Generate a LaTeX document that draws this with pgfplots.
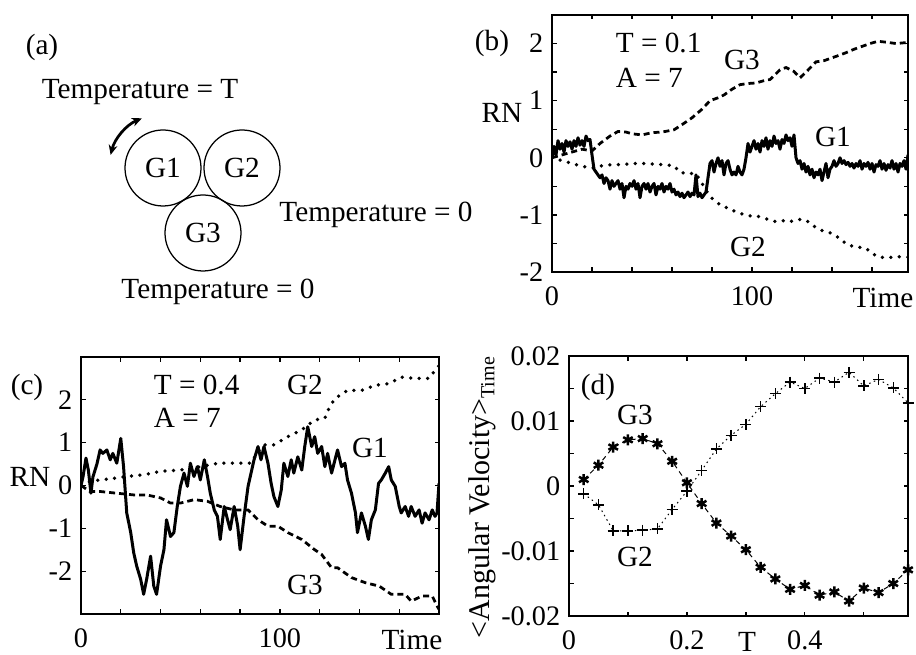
\documentclass[border=0pt]{standalone}
\usepackage{pgfplots}
\pgfplotsset{compat=1.18}
\usepackage{fontspec}
\setmainfont{Liberation Serif}
\usetikzlibrary{arrows.meta}

\pgfplotsset{
  panel/.style={scale only axis, anchor=south west, tick align=inside,
    major tick length=1.8pt, minor tick length=1.8pt,
    tick style={black, line width=0.5pt},
    axis line style={line width=0.6pt},
    tick label style={font=\fontsize{11.3}{12}\selectfont},
    xticklabel style={yshift=-2.5pt},
    scaled ticks=false},
  g1/.style={black, line width=1.2pt, line join=round},
  g2/.style={black, line width=1.5pt, line cap=round, dash pattern=on 0pt off 3.4pt},
  g3/.style={black, line width=1.1pt, dash pattern=on 2.4pt off 1.6pt},
}
\newcommand{\tx}{\fontsize{11.7}{13}\selectfont}

\begin{document}
\begin{tikzpicture}
\path[use as bounding box] (0,0) rectangle (366.4pt,262pt);

% ---------- (a) sketch ----------
\begin{scope}[x=0.4pt,y=-0.4pt,shift={(0pt,262pt)}]
\draw[line width=0.5pt] (163,168) circle[radius=38];
\draw[line width=0.5pt] (242,168) circle[radius=38];
\draw[line width=0.5pt] (203,233) circle[radius=38];
\node[font=\tx] at (163,168) {G1};
\node[font=\tx] at (242,168) {G2};
\node[font=\tx] at (203,233) {G3};
\node[font=\tx] at (42,47) {(a)};
\node[font=\tx] at (140,92) {Temperature = T};
\node[font=\tx] at (376,215) {Temperature = 0};
\node[font=\tx] at (218,292) {Temperature = 0};
% labels of (b)
\node[font=\tx] at (492,43) {(b)};
\node[font=\tx, anchor=west] at (607,43) {T = 0.1};
\node[font=\tx, anchor=west] at (607,78) {A = 7};
\node[font=\tx] at (742,60) {G3};
\node[font=\tx] at (833,137) {G1};
\node[font=\tx] at (748,247) {G2};
\node[font=\tx] at (502,113) {RN};
\node[font=\tx] at (883,298) {Time};
% labels of (c)
\node[font=\tx] at (27,387) {(c)};
\node[font=\tx, anchor=west] at (145,385) {T = 0.4};
\node[font=\tx, anchor=west] at (145,418) {A = 7};
\node[font=\tx] at (305,385) {G2};
\node[font=\tx] at (370,448) {G1};
\node[font=\tx] at (305,585) {G3};
\node[font=\tx] at (30,477) {RN};
\node[font=\tx] at (412,640) {Time};
% labels of (d)
\node[font=\tx] at (598,387) {(d)};
\node[font=\tx] at (635,415) {G3};
\node[font=\tx] at (635,557) {G2};
\node[font=\tx] at (747,642) {T};
\node[font=\fontsize{12}{13}\selectfont, rotate=90, anchor=base west] at (490,647) {<Angular Velocity>\textsubscript{Time}};
\end{scope}
\draw[line width=1.1pt, {Stealth[length=4pt,width=3.5pt]}-{Stealth[length=4pt,width=3.5pt]}]
  ([shift={(166:21.6pt)}]65.2pt,194.8pt) arc[start angle=166, end angle=113, radius=21.6pt];

% ---------- (b) ----------
\begin{axis}[panel, at={(220.8pt,153.2pt)}, width=142.4pt, height=102.8pt,
  xmin=0, xmax=178, ymin=-2, ymax=2.5,
  xtick={0,100}, xticklabels={0,100}, minor xtick={20,40,60,80,120,140,160},
  ytick={-2,-1,0,1,2}, yticklabels={-2,-1,0,1,2}, minor ytick={-1.5,-0.5,0.5,1.5}]
\addplot[g3] coordinates {(0,0)(5,0.05)(10,0.1)(15,0.15)(20,0.12)(24,0.25)(29,0.38)(33,0.46)(37,0.45)(40,0.42)(45,0.4)(50,0.44)(55,0.45)(61,0.49)(65,0.58)(70,0.7)(75,0.85)(79,1.0)(83,1.05)(86,1.1)(90,1.2)(94,1.28)(98,1.3)(102,1.31)(106,1.35)(109,1.37)(114,1.54)(117,1.58)(121,1.51)(124,1.4)(127,1.5)(132,1.68)(136,1.7)(140,1.75)(144,1.8)(147,1.84)(151,1.9)(155,1.95)(159,2.0)(163,2.04)(168,2.02)(172,2.0)(178,2.02)};
\addplot[g2] coordinates {(0,0)(5,-0.05)(9,-0.09)(15,-0.15)(20,-0.18)(25,-0.14)(30,-0.12)(35,-0.12)(40,-0.1)(47,-0.1)(55,-0.12)(61,-0.14)(64,-0.26)(68,-0.27)(72,-0.28)(75,-0.45)(79,-0.68)(83,-0.8)(86,-0.85)(89,-0.91)(93,-0.95)(96,-1.0)(100,-1.02)(104,-1.03)(108,-1.08)(112,-1.12)(116,-1.1)(119,-1.12)(123,-1.08)(127,-1.09)(131,-1.2)(134,-1.26)(137,-1.3)(140,-1.32)(144,-1.42)(148,-1.53)(152,-1.56)(157,-1.58)(160,-1.68)(164,-1.74)(168,-1.75)(172,-1.73)(178,-1.74)};
\addplot[g1] coordinates {(0,0.0)(1,0.2)(2,0.05)(3,0.3)(4,0.15)(5,0.25)(6,0.1)(7,0.3)(8,0.2)(9,0.28)(10,0.15)(11,0.3)(12,0.2)(13,0.35)(14,0.22)(15,0.3)(16,0.2)(17,0.38)(18,0.3)(19,0.32)(20,0.05)(21,-0.2)(22,-0.25)(23,-0.3)(24,-0.35)(25,-0.3)(26,-0.45)(27,-0.35)(28,-0.4)(29,-0.55)(30,-0.4)(31,-0.5)(32,-0.45)(33,-0.4)(34,-0.55)(35,-0.45)(36,-0.7)(37,-0.5)(38,-0.55)(39,-0.45)(40,-0.5)(41,-0.4)(42,-0.55)(43,-0.45)(44,-0.7)(45,-0.5)(46,-0.45)(47,-0.55)(48,-0.45)(49,-0.6)(50,-0.5)(51,-0.45)(52,-0.65)(53,-0.5)(54,-0.55)(55,-0.45)(56,-0.6)(57,-0.5)(58,-0.55)(59,-0.45)(60,-0.6)(61,-0.55)(62,-0.65)(63,-0.6)(64,-0.68)(65,-0.62)(66,-0.7)(67,-0.65)(68,-0.6)(69,-0.68)(70,-0.62)(71,-0.65)(72,-0.3)(73,-0.68)(74,-0.62)(75,-0.7)(76,-0.65)(77,-0.6)(78,-0.35)(79,-0.1)(80,-0.05)(81,-0.25)(82,-0.1)(83,0.0)(84,-0.15)(85,-0.05)(86,-0.3)(87,-0.1)(88,-0.05)(89,-0.2)(90,-0.3)(91,-0.25)(92,-0.3)(93,-0.15)(94,-0.25)(95,-0.3)(96,-0.2)(97,0.0)(98,0.25)(99,0.1)(100,0.2)(101,0.3)(102,0.15)(103,0.25)(104,0.1)(105,0.3)(106,0.2)(107,0.35)(108,0.15)(109,0.3)(110,0.2)(111,0.38)(112,0.25)(113,0.3)(114,0.15)(115,0.32)(116,0.25)(117,0.4)(118,0.3)(119,0.35)(120,0.2)(121,0.4)(122,0.0)(123,-0.1)(124,-0.05)(125,-0.2)(126,-0.1)(127,-0.25)(128,-0.15)(129,-0.3)(130,-0.2)(131,-0.35)(132,-0.25)(133,-0.3)(134,-0.2)(135,-0.4)(136,-0.25)(137,-0.1)(138,-0.35)(139,-0.2)(140,-0.15)(141,-0.05)(142,-0.15)(143,-0.1)(144,0.0)(145,-0.1)(146,-0.05)(147,-0.12)(148,-0.08)(149,-0.15)(150,-0.1)(151,-0.18)(152,-0.1)(153,-0.15)(154,-0.05)(155,-0.2)(156,-0.1)(157,-0.15)(158,-0.08)(159,-0.2)(160,-0.1)(161,-0.25)(162,-0.12)(163,-0.15)(164,-0.05)(165,-0.2)(166,-0.1)(167,-0.22)(168,-0.12)(169,-0.18)(170,-0.05)(171,-0.2)(172,-0.1)(173,-0.25)(174,-0.1)(175,-0.15)(176,-0.05)(177,-0.2)(178,0.05)};
\end{axis}

% ---------- (c) ----------
\begin{axis}[panel, at={(32.4pt,16.4pt)}, width=143.2pt, height=102.8pt,
  xmin=0, xmax=180, ymin=-3, ymax=3,
  xtick={0,100}, xticklabels={0,100}, minor xtick={20,40,60,80,120,140,160},
  ytick={-2,-1,0,1,2}, yticklabels={-2,-1,0,1,2}]
\addplot[g2] coordinates {(0,0.05)(9.6,0.13)(17,0.17)(23,0.21)(31.5,0.25)(40,0.33)(50,0.36)(60,0.44)(69,0.52)(77,0.52)(85.5,0.52)(89,0.8)(92,0.95)(97,0.95)(104,1.14)(111,1.3)(117.5,1.53)(122.6,1.57)(125,1.84)(127.7,2.03)(134,2.22)(141,2.22)(148,2.34)(155,2.38)(161,2.53)(168,2.5)(175,2.5)(178,2.69)(180,2.8)};
\addplot[g3] coordinates {(0,0)(4.5,-0.14)(9.6,-0.14)(18,-0.18)(26.5,-0.22)(33,-0.22)(40,-0.29)(45,-0.41)(50,-0.41)(57,-0.33)(63.6,-0.37)(70,-0.49)(77,-0.57)(84,-0.57)(89,-0.8)(94,-0.95)(99,-0.95)(104,-1.1)(111,-1.26)(117.5,-1.5)(121,-1.61)(126,-1.92)(129,-1.92)(136,-2.15)(143,-2.27)(150,-2.35)(156,-2.54)(163,-2.54)(166,-2.7)(171.5,-2.58)(176.6,-2.58)(179,-2.81)(180,-2.89)};
\addplot[g1] coordinates {(0,0.0)(1,0.2)(2.5,0.64)(3.7,0.36)(5,-0.18)(6,0.2)(8,0.5)(9.6,0.83)(11,0.75)(13,0.83)(14.7,0.6)(16,0.75)(18,0.52)(20,1.1)(21.4,0.44)(23,-0.64)(25,-1.1)(26.5,-1.57)(28,-1.88)(30,-2.19)(31.5,-2.54)(33,-2.19)(35,-1.65)(36.6,-2.35)(38,-2.54)(40,-1.88)(41.7,-1.5)(43,-0.8)(45,-1.19)(46.7,-1.1)(48.4,-0.49)(50,-0.02)(51.8,0.29)(53.5,-0.02)(55,0.52)(56.8,0.21)(58.5,0.44)(60,0.13)(62,0.6)(63.6,0.21)(65,-0.18)(67,-0.57)(68.6,-0.72)(70,-1.26)(72,-0.49)(73.7,-0.8)(75,-1.03)(77,-0.49)(78.8,-0.95)(80,-1.5)(82,-0.72)(84,-0.02)(85.5,0.29)(87,0.6)(89,0.91)(90.5,0.6)(92,0.91)(94,0.52)(95.6,0.05)(97,-0.26)(99,-0.49)(100.7,-0.1)(102,0.52)(104,0.21)(105.7,0.6)(107,0.29)(109,0.67)(111,0.36)(112.5,0.91)(114,1.37)(116,0.91)(117.5,1.14)(119,0.75)(121,0.91)(122.6,0.44)(124,0.75)(126,0.29)(127.7,0.6)(129,0.83)(131,0.44)(132.7,0.52)(134,0.13)(136,-0.18)(138,-0.64)(139,-1.1)(141,-0.64)(143,-0.95)(144.5,-1.26)(146,-0.8)(148,-0.57)(149.6,0.05)(151,0.13)(153,0.29)(154.7,0.44)(156,0.13)(158,-0.02)(160,-0.49)(161,-0.64)(163,-0.49)(164.7,-0.72)(166,-0.49)(168,-0.72)(170,-0.57)(171.5,-0.88)(173,-0.64)(175,-0.8)(176.6,-0.57)(178,-0.72)(179,-0.64)(180,0.05)};
\end{axis}

% ---------- (d) ----------
\begin{axis}[panel, at={(227.6pt,15.6pt)}, width=135.6pt, height=104pt,
  xmin=0, xmax=0.575, ymin=-0.02, ymax=0.02,
  xtick={0,0.2,0.4}, xticklabels={0,0.2,0.4}, minor xtick={0.1,0.3,0.5},
  ytick={-0.02,-0.01,0,0.01,0.02}, yticklabels={-0.02,-0.01,0,0.01,0.02},
  minor ytick={-0.015,-0.005,0.005,0.015}]
\addplot[black, line width=0.4pt, dash pattern=on 2pt off 1.6pt, mark=asterisk,
  mark size=2.2pt, mark options={solid, line width=1pt}] coordinates {
  (0.025,0.0010)(0.05,0.0032)(0.075,0.0060)(0.1,0.0071)(0.125,0.0073)(0.15,0.0065)
  (0.175,0.0038)(0.2,0.0005)(0.225,-0.0027)(0.25,-0.0057)(0.275,-0.0077)(0.3,-0.0098)
  (0.325,-0.0125)(0.35,-0.0143)(0.375,-0.0159)(0.4,-0.0153)(0.425,-0.0168)(0.45,-0.0163)
  (0.475,-0.0177)(0.5,-0.0157)(0.525,-0.0164)(0.55,-0.0150)(0.575,-0.0129)};
\addplot[black, line width=0.4pt, dash pattern=on 0.6pt off 1.4pt, mark=+,
  mark size=2.2pt, mark options={solid, line width=0.6pt}] coordinates {
  (0.025,-0.0012)(0.05,-0.0029)(0.075,-0.0069)(0.1,-0.0069)(0.125,-0.0068)(0.15,-0.0066)
  (0.175,-0.0036)(0.2,-0.0008)(0.225,0.0024)(0.25,0.0057)(0.275,0.0078)(0.3,0.0095)
  (0.325,0.0122)(0.35,0.0142)(0.375,0.0160)(0.4,0.0150)(0.425,0.0166)(0.45,0.0160)
  (0.475,0.0175)(0.5,0.0154)(0.525,0.0164)(0.55,0.0151)(0.575,0.0128)};
\end{axis}
\end{tikzpicture}
\end{document}
